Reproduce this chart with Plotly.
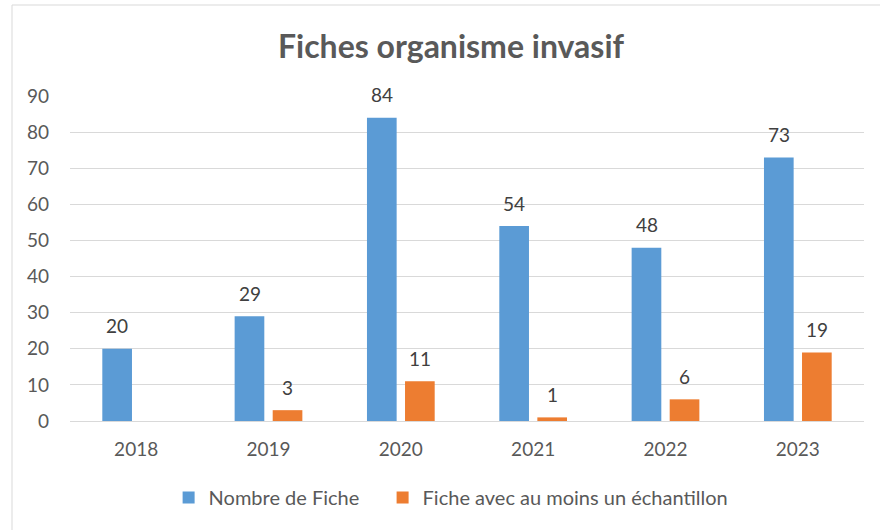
import plotly.graph_objects as go

years = ["2018", "2019", "2020", "2021", "2022", "2023"]
nombre_fiche = [20, 29, 84, 54, 48, 73]
fiche_echantillon = [None, 3, 11, 1, 6, 19]
series_names = ["Nombre de Fiche", "Fiche avec au moins un échantillon"]
y_ticks = [0, 10, 20, 30, 40, 50, 60, 70, 80, 90]

BLUE = "#5b9bd5"
ORANGE = "#ed7d31"
TXT = "#595959"
LBL = "#404040"
FONT = "Lato, 'Open Sans', sans-serif"

fig = go.Figure()
fig.add_trace(go.Bar(x=years, y=nombre_fiche, name=series_names[0], showlegend=True,
                     marker=dict(color=BLUE, line=dict(width=0)), legend="legend"))
fig.add_trace(go.Bar(x=years, y=fiche_echantillon, name=series_names[1], showlegend=True,
                     marker=dict(color=ORANGE, line=dict(width=0)), legend="legend2"))

annotations = []
for vals, shift in ((nombre_fiche, -19), (fiche_echantillon, 19)):
    for i, v in enumerate(vals):
        if v is None:
            continue
        annotations.append(dict(x=i, y=v, xref="x", yref="y", text=str(v),
                                showarrow=False, xshift=shift, yshift=23,
                                yanchor="middle",
                                font=dict(family=FONT, size=19, color=LBL)))

legend_common = dict(orientation="h", xanchor="left", y=-0.235, yanchor="middle",
                     font=dict(family=FONT, size=20, color=TXT), itemwidth=30,
                     bgcolor="rgba(0,0,0,0)", visible=True)

fig.update_layout(
    width=880, height=530,
    margin=dict(l=70, r=16, t=96, b=109, pad=0),
    paper_bgcolor="white", plot_bgcolor="white",
    showlegend=True,
    barmode="group", bargap=0.425, bargroupgap=0.22,
    font=dict(family=FONT, size=19, color=TXT),
    title=dict(text="<b>Fiches organisme invasif</b>", x=451/880, xanchor="center",
               y=1 - 47/530, yanchor="middle", xref="container", yref="container",
               font=dict(family=FONT, size=32, color=TXT)),
    legend=dict(x=0.1242, **legend_common),
    legend2=dict(x=0.3937, **legend_common),
    annotations=annotations,
    shapes=[dict(type="rect", xref="paper", yref="paper",
                 x0=(12 - 70) / 794, x1=1.2, y0=-0.5, y1=(421 - 5) / 325,
                 line=dict(color="#d9d9d9", width=1), fillcolor="rgba(0,0,0,0)",
                 layer="below")],
)
fig.update_xaxes(type="category", range=[-0.5, len(years) - 0.5], autorange=False,
                 showgrid=False, showline=True, linecolor="#d9d9d9",
                 linewidth=1, ticks="", ticklabelstandoff=11,
                 tickfont=dict(family=FONT, size=19, color=TXT))
fig.update_yaxes(range=[0, 90], autorange=False, tickvals=y_ticks, showgrid=True,
                 gridcolor="#d9d9d9", gridwidth=1, zeroline=False, showline=False,
                 ticks="", ticklabelstandoff=20,
                 tickfont=dict(family=FONT, size=19, color=TXT))

fig.write_html("out.html", config={"displayModeBar": False},
               post_script="document.body.style.margin='0';")
